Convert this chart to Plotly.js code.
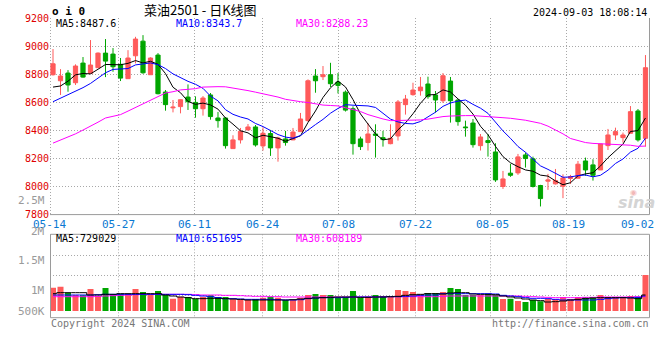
<!DOCTYPE html>
<html><head><meta charset="utf-8">
<script src="https://cdn.plot.ly/plotly-3.0.1.min.js"></script>
<style>html,body{margin:0;padding:0;background:#fff;}#chart{width:660px;height:360px;}</style>
</head><body><div id="chart"></div>
<script>
// ---- data ----
const dateLabels = ['05-14','05-27','06-11','06-24','07-08','07-22','08-05','08-19','09-02'];
const openP = [8796,8753,8808,8739,8879,8806,8846,8950,8943,8870,
 8768,8931,9035,8796,8936,8673,8560,8569,8637,8599,
 8554,8652,8488,8488,8270,8332,8403,8424,8289,8377,
 8275,8339,8332,8391,8469,8787,8782,8796,8744,8672,
 8554,8339,8313,8374,8348,8305,8360,8583,8654,8682,
 8730,8652,8611,8751,8616,8424,8452,8291,8327,8246,
 8000,8095,8097,8225,8197,8007,8038,8019,8002,8057,
 8059,8182,8154,8118,8291,8367,8348,8379,8538,8343];
const highP = [8979,8836,8829,8870,8922,9043,8955,9050,8986,8915,
 8971,9066,9078,8920,8950,8687,8616,8620,8727,8642,
 8644,8666,8531,8493,8365,8417,8445,8438,8422,8403,
 8355,8396,8417,8524,8763,8836,8858,8881,8808,8684,
 8571,8355,8452,8443,8396,8443,8616,8652,8739,8780,
 8782,8680,8808,8780,8621,8469,8481,8374,8374,8308,
 8111,8161,8232,8242,8213,8012,8090,8125,8087,8083,
 8182,8206,8194,8303,8410,8419,8384,8573,8552,8936];
const lowP = [8790,8652,8675,8723,8775,8804,8846,8779,8817,8751,
 8768,8877,8803,8796,8656,8540,8528,8521,8545,8490,
 8505,8476,8419,8270,8270,8306,8398,8284,8256,8218,
 8177,8291,8330,8391,8462,8668,8758,8708,8663,8534,
 8227,8260,8256,8206,8284,8301,8327,8512,8647,8647,
 8625,8526,8595,8455,8433,8355,8277,8256,8213,8033,
 7983,8069,8083,8135,7993,7858,7976,8014,7917,8019,
 8059,8076,8042,8118,8260,8331,8313,8379,8320,8284];
const closeP = [8874,8787,8723,8858,8779,8865,8950,8893,8853,8772,
 8915,9050,8810,8915,8661,8583,8565,8618,8604,8554,
 8630,8498,8469,8291,8332,8393,8424,8296,8379,8275,
 8346,8313,8388,8481,8753,8753,8796,8732,8720,8544,
 8305,8284,8374,8365,8334,8343,8602,8623,8687,8708,
 8640,8616,8789,8611,8462,8419,8298,8353,8313,8047,
 8054,8080,8211,8199,8000,7914,8047,8042,8061,8071,
 8159,8118,8080,8303,8367,8391,8367,8533,8332,8846];
const ma5 = [8708,8716,8750,8795,8805,8802,8835,8869,8868,8867,
 8877,8897,8880,8892,8870,8804,8707,8668,8606,8585,
 8594,8581,8551,8488,8444,8397,8382,8347,8365,8353,
 8344,8322,8340,8361,8456,8538,8634,8703,8751,8709,
 8619,8517,8445,8374,8332,8340,8404,8453,8518,8593,
 8652,8655,8688,8673,8624,8579,8516,8429,8369,8286,
 8213,8169,8141,8118,8109,8081,8074,8040,8013,8027,
 8076,8090,8098,8146,8205,8252,8302,8392,8398,8488];
const ma10 = [8604,8628,8652,8675,8704,8734,8770,8810,8834,8836,
 8840,8866,8875,8880,8868,8840,8802,8774,8749,8728,
 8699,8644,8610,8547,8514,8495,8481,8449,8427,8399,
 8370,8352,8344,8363,8405,8441,8478,8522,8556,8583,
 8579,8576,8574,8563,8521,8480,8460,8449,8446,8463,
 8496,8529,8571,8595,8608,8616,8585,8558,8521,8455,
 8396,8343,8285,8244,8197,8147,8122,8091,8066,8068,
 8078,8082,8069,8080,8116,8164,8196,8245,8272,8344];
const ma30 = [8309,8330,8352,8375,8402,8428,8458,8488,8499,8512,
 8537,8564,8591,8618,8645,8666,8675,8688,8692,8697,
 8708,8711,8711,8710,8702,8694,8683,8672,8661,8651,
 8637,8621,8610,8604,8598,8589,8580,8577,8574,8561,
 8550,8534,8512,8494,8481,8469,8470,8471,8472,8474,
 8480,8491,8498,8502,8505,8505,8505,8500,8497,8495,
 8490,8486,8480,8472,8461,8450,8430,8405,8375,8342,
 8325,8313,8307,8305,8303,8302,8301,8294,8286,8288];
const volume = [920000,960000,723000,631000,618000,868000,592000,907000,658000,684000,
 671000,868000,750000,658000,789000,631000,487000,565000,552000,487000,
 552000,618000,552000,552000,460000,460000,434000,473000,526000,565000,
 526000,434000,434000,526000,631000,671000,631000,631000,526000,552000,
 789000,539000,565000,631000,579000,565000,828000,789000,750000,658000,
 710000,710000,750000,907000,868000,631000,631000,631000,671000,631000,
 473000,487000,395000,355000,434000,381000,473000,473000,552000,473000,
 552000,552000,552000,631000,552000,552000,552000,592000,552000,1420000];
const volMa5 = [684000,723000,723000,723000,723000,631000,631000,658000,658000,684000,
 684000,684000,684000,684000,684000,631000,592000,552000,526000,487000,
 487000,500000,500000,487000,473000,460000,434000,434000,434000,434000,
 434000,434000,447000,473000,500000,513000,526000,539000,552000,552000,
 552000,539000,539000,552000,552000,565000,579000,618000,644000,658000,
 684000,684000,671000,710000,723000,723000,671000,658000,658000,644000,
 592000,552000,513000,473000,434000,408000,355000,368000,395000,434000,
 460000,487000,513000,526000,526000,526000,526000,513000,487000,631000];
const volMa10 = [631000,631000,631000,631000,631000,631000,644000,658000,658000,658000,
 658000,658000,658000,658000,658000,658000,658000,658000,644000,618000,
 592000,565000,526000,487000,487000,473000,460000,460000,460000,460000,
 447000,434000,434000,447000,487000,513000,526000,526000,526000,539000,
 552000,552000,552000,552000,552000,565000,565000,579000,592000,618000,
 631000,631000,684000,684000,684000,684000,684000,684000,684000,671000,
 618000,592000,565000,526000,500000,500000,487000,460000,434000,434000,
 434000,434000,434000,460000,487000,513000,526000,526000,539000,592000];
const volMa30 = [565000,565000,565000,565000,565000,565000,579000,592000,605000,618000,
 631000,644000,658000,658000,658000,658000,658000,658000,658000,644000,
 631000,631000,631000,618000,618000,605000,592000,579000,579000,565000,
 565000,552000,552000,552000,552000,552000,552000,552000,552000,552000,
 552000,552000,552000,552000,565000,565000,565000,565000,565000,565000,
 565000,565000,579000,592000,592000,592000,592000,592000,592000,592000,
 592000,592000,592000,579000,565000,552000,539000,526000,526000,526000,
 526000,539000,539000,552000,552000,552000,552000,552000,565000,565000];
const priceTicks = [7800,8000,8200,8400,8600,8800,9000,9200];
const volTickText = ['2.5M','2M','1.5M','1M','500K'];
const mainLegend = ['MA5:8487.6','MA10:8343.7','MA30:8288.23'];
const volLegend = ['MA5:729029','MA10:651695','MA30:608189'];
const titleText = '菜油2501 - 日K线图';
const codeText = 'o i 0';
const timeText = '2024-09-03 18:08:14';
const footLeft = 'Copyright 2024 SINA.COM';
const footRight = 'http://finance.sina.com.cn';

// ---- styling / layout ----
const W = 660, H = 360;
const RED = '#ff5a5a', GREEN = '#00a600';
const MONO = 'DejaVu Sans Mono, Liberation Mono, monospace';
const px = v => v / W, py = v => 1 - v / H;
const PL = 50, PR = 649, MT = 18, MB = 214.6, VT = 234.3, VB = 317.7;
const idx = closeP.map((_, i) => i);
const up = closeP.map((c, i) => c >= openP[i]);

const traces = [
  {type:'candlestick', x: idx, open: openP, high: highP, low: lowP, close: closeP,
   xaxis:'x', yaxis:'y', whiskerwidth:0, hoverinfo:'skip',
   increasing:{line:{color:RED,width:1}, fillcolor:RED},
   decreasing:{line:{color:GREEN,width:1}, fillcolor:GREEN}},
  {type:'scatter', mode:'lines', x: idx, y: ma5, xaxis:'x', yaxis:'y', line:{color:'#000000',width:1}, hoverinfo:'skip'},
  {type:'scatter', mode:'lines', x: idx, y: ma10, xaxis:'x', yaxis:'y', line:{color:'#0000ff',width:1}, hoverinfo:'skip'},
  {type:'scatter', mode:'lines', x: idx, y: ma30, xaxis:'x', yaxis:'y', line:{color:'#ff00ff',width:1}, hoverinfo:'skip'},
  {type:'bar', x: idx, y: volume, xaxis:'x2', yaxis:'y2', width:0.8,
   marker:{color: up.map(u => u ? RED : GREEN), line:{width:0}}, hoverinfo:'skip'},
  {type:'scatter', mode:'lines', x: idx, y: volMa30, xaxis:'x2', yaxis:'y2', line:{color:'#ff00ff',width:1,shape:'hvh'}, hoverinfo:'skip'},
  {type:'scatter', mode:'lines', x: idx, y: volMa10, xaxis:'x2', yaxis:'y2', line:{color:'#0000ff',width:1,shape:'hvh'}, hoverinfo:'skip'},
  {type:'scatter', mode:'lines', x: idx, y: volMa5, xaxis:'x2', yaxis:'y2', line:{color:'#000000',width:1,shape:'hvh'}, hoverinfo:'skip'}
];

const GRID = '#a8a8a8', BORDER = '#9a9a9a';
const dotLine = {color: GRID, width: 1, dash: '1px,2px'};
const vGrid = [50.5, 118.5, 194.5, 262.5, 338.5, 415.5, 490.5, 566.5];
const labelX = [49, 118, 194, 262, 338, 416, 492, 568, 637];
const volLabelY = [200, 231, 260.3, 290, 311];

const shapes = [];
vGrid.forEach(x => {
  shapes.push({type:'line', xref:'paper', yref:'paper', x0:px(x), x1:px(x), y0:py(MT), y1:py(MB), line:dotLine, layer:'below'});
  shapes.push({type:'line', xref:'paper', yref:'paper', x0:px(x), x1:px(x), y0:py(VT), y1:py(VB), line:dotLine, layer:'below'});
});
shapes.push({type:'line', xref:'paper', yref:'paper', x0:px(PL), x1:px(PR+0.5), y0:py(MB), y1:py(MB), line:{color:BORDER,width:1}});
shapes.push({type:'line', xref:'paper', yref:'paper', x0:px(PR+0.5), x1:px(PR+0.5), y0:py(MT), y1:py(MB), line:{color:BORDER,width:1}});
shapes.push({type:'rect', xref:'paper', yref:'paper', x0:px(PL+0.5), x1:px(PR+0.5), y0:py(VB), y1:py(VT), line:{color:BORDER,width:1}, fillcolor:'rgba(0,0,0,0)'});

const ann = [];
const T = (text, x, y, opt) => ann.push(Object.assign({text, xref:'paper', yref:'paper', x:px(x), y:py(y),
  showarrow:false, xanchor:'left', yanchor:'middle', font:{family:MONO, size:10, color:'#000'}}, opt || {}));
T(codeText, 50, 11.5, {font:{family:MONO, size:11, color:'#000', weight:'bold'}});
T(titleText, 200, 9.5, {xanchor:'center', font:{family:'Noto Sans CJK SC, sans-serif', size:13, color:'#000'}});
T(timeText, 649, 12.3, {xanchor:'right'});
const legColors = ['#000000','#0000ff','#ff00ff'];
const legX = [54, 174, 294];
mainLegend.forEach((t, i) => T(t, legX[i], 24, {font:{family:MONO, size:10, color:legColors[i]}}));
volLegend.forEach((t, i) => T(t, legX[i], 238.5, {font:{family:MONO, size:10, color:legColors[i]}}));
dateLabels.forEach((t, i) => T(t, labelX[i], 224.5, {xanchor:'center', font:{family:MONO, size:11, color:'#0a78d2'}}));
volTickText.forEach((t, i) => T(t, 46.5, volLabelY[i], {xanchor:'right', font:{family:MONO, size:11, color:'#9a9a9a'}}));
T(footLeft, 49, 323.5, {font:{family:MONO, size:10, color:'#777'}});
T(footRight, 651, 323.5, {xanchor:'right', font:{family:MONO, size:10, color:'#777'}});
T('<b><i>sina</i></b>', 636, 202, {xanchor:'center', font:{family:'DejaVu Sans, sans-serif', size:16, color:'#d4d4d4'}});
T('◉', 633, 192, {xanchor:'center', font:{family:'DejaVu Sans, sans-serif', size:8, color:'#f2b8b8'}});

const layout = {
  width: W, height: H, margin:{l:0,r:0,t:0,b:0}, paper_bgcolor:'#fff', plot_bgcolor:'#fff',
  showlegend:false, boxgap:0.2, bargap:0.2,
  xaxis:{domain:[px(PL), px(PR)], range:[-0.4, 79.47], anchor:'y', showgrid:false, zeroline:false,
    showticklabels:false, showline:false, rangeslider:{visible:false}, fixedrange:true},
  yaxis:{domain:[py(MB), py(MT)], range:[7800, 9200], anchor:'x', tickvals: priceTicks,
    ticktext: priceTicks.map(String), tickfont:{family:MONO, size:10, color:'#e00000'},
    showgrid:true, gridcolor:GRID, griddash:'1px,2px', gridwidth:1, zeroline:false, showline:false,
    ticks:'', fixedrange:true},
  xaxis2:{domain:[px(PL), px(PR)], range:[-0.4, 79.47], anchor:'y2', showgrid:false, zeroline:false,
    showticklabels:false, showline:false, fixedrange:true},
  yaxis2:{domain:[py(VB), py(VT)], range:[-264000, 3026000], anchor:'x2',
    tickvals:[619000, 1408000, 2197000], showticklabels:false, showgrid:true, gridcolor:GRID,
    griddash:'1px,2px', gridwidth:1, zeroline:false, showline:false, ticks:'', fixedrange:true},
  shapes, annotations: ann
};
Plotly.newPlot('chart', traces, layout, {staticPlot:true, displayModeBar:false});
</script></body></html>
